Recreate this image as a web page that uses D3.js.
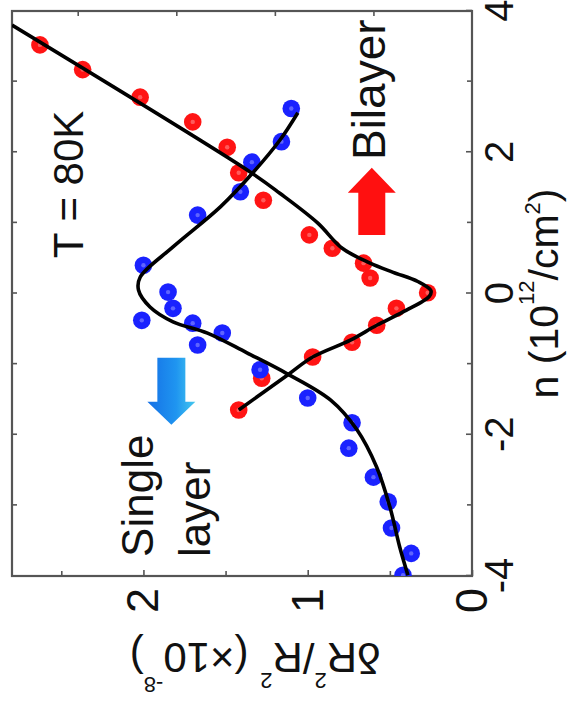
<!DOCTYPE html>
<html><head><meta charset="utf-8">
<script src="https://cdn.jsdelivr.net/npm/d3@7"></script>
<style>body{margin:0;background:#fff}svg{display:block}</style>
</head><body><div id="chart"></div>
<script>
// ---- data (n in 1e12/cm^2, value in 1e-8) ----
const bilayerN = [3.52,3.17,2.78,2.43,2.07,1.71,1.32,0.83,0.64,0.43,0.22,0.01,-0.21,-0.45,-0.69,-0.90,-1.20,-1.65];
const bilayerV = [2.63,2.37,2.02,1.70,1.49,1.42,1.27,0.99,0.85,0.66,0.62,0.27,0.46,0.58,0.73,0.97,1.28,1.42];
const singleN = [2.62,2.15,1.86,1.44,1.11,0.40,0.02,-0.21,-0.38,-0.42,-0.73,-0.56,-1.08,-1.48,-1.83,-2.19,-2.60,-2.95,-3.32,-3.68,-3.99];
const singleV = [1.10,1.16,1.34,1.41,1.67,2.00,1.85,1.82,2.01,1.70,1.67,1.52,1.29,1.00,0.73,0.75,0.60,0.51,0.49,0.37,0.42];
const bilayerFitN = [3.80,1.72,1.42,1.00,0.64,0.43,0.30,0.17,0.04,-0.04,-0.26,-0.45,-0.66,-0.90,-1.15,-1.65];
const bilayerFitV = [2.80,1.35,1.17,0.94,0.79,0.62,0.48,0.33,0.25,0.26,0.42,0.58,0.74,0.97,1.12,1.42];
const singleFitN = [2.56,2.17,1.72,1.23,0.66,0.23,0.05,-0.19,-0.40,-0.56,-0.84,-1.13,-1.51,-1.93,-2.46,-3.02,-3.59,-3.99];
const singleFitV = [1.06,1.17,1.33,1.53,1.82,2.02,2.03,1.96,1.82,1.61,1.37,1.13,0.86,0.70,0.58,0.50,0.44,0.39];
const nTicks = [-4,-2,0,2,4];
const nMinorTicks = [-3,-1,1,3];
const nTopTicks = [-3,-2,-1,0,1,2,3];
const vTicks = [0,1,2];
const vMinorTicks = [0.5,1.5,2.5];
const vRightTicks = [0.6,1.2,1.8,2.4];

// ---- layout ----
const W = 569, H = 715;
const FONT = "Arial, 'Liberation Sans', Helvetica, sans-serif";
const frameColor = "#555";
const svg = d3.select("#chart").append("svg").attr("width", W).attr("height", H);
svg.append("rect").attr("width", W).attr("height", H).attr("fill", "#fff");
// The whole figure is rotated 90deg counter-clockwise
const g = svg.append("g").attr("transform", `translate(0,${H}) rotate(-90)`);
const x = d3.scaleLinear().domain([-4, 4]).range([139, 704]);
const y = d3.scaleLinear().domain([0, 2.8]).range([472, 12]);

g.append("clipPath").attr("id", "clip").append("rect")
  .attr("x", x(-4)).attr("y", y(2.8)).attr("width", x(4) - x(-4)).attr("height", y(0) - y(2.8));

function styleAxis(sel, fs) {
  sel.select(".domain").remove();
  sel.selectAll(".tick line").attr("stroke", frameColor).attr("stroke-width", 1.6);
  sel.attr("font-size", fs).attr("font-family", FONT);
  sel.selectAll("text").attr("fill", "#111");
}
const fmt = d => String(d);
// bottom (n axis)
g.append("g").attr("transform", `translate(0,${y(0)})`)
  .call(d3.axisBottom(x).tickValues(nTicks).tickSizeInner(-6).tickSizeOuter(0).tickPadding(13).tickFormat(fmt))
  .call(s => styleAxis(s, 40));
g.append("g").attr("transform", `translate(0,${y(0)})`)
  .call(d3.axisBottom(x).tickValues(nMinorTicks).tickSizeInner(-5).tickSizeOuter(0).tickFormat(""))
  .call(s => styleAxis(s, 40));
// top
g.append("g").attr("transform", `translate(0,${y(2.8)})`)
  .call(d3.axisTop(x).tickValues(nTopTicks).tickSizeInner(-5).tickSizeOuter(0).tickFormat(""))
  .call(s => styleAxis(s, 40));
// left (value axis)
g.append("g").attr("transform", `translate(${x(-4)},0)`)
  .call(d3.axisLeft(y).tickValues(vTicks).tickSizeInner(-6).tickSizeOuter(0).tickPadding(12).tickFormat(fmt))
  .call(s => styleAxis(s, 45));
g.append("g").attr("transform", `translate(${x(-4)},0)`)
  .call(d3.axisLeft(y).tickValues(vMinorTicks).tickSizeInner(-5).tickSizeOuter(0).tickFormat(""))
  .call(s => styleAxis(s, 45));
// right
g.append("g").attr("transform", `translate(${x(4)},0)`)
  .call(d3.axisRight(y).tickValues(vRightTicks).tickSizeInner(-5).tickSizeOuter(0).tickFormat(""))
  .call(s => styleAxis(s, 40));

// frame
g.append("rect").attr("x", x(-4)).attr("y", y(2.8)).attr("width", x(4) - x(-4)).attr("height", y(0) - y(2.8))
  .attr("fill", "none").attr("stroke", frameColor).attr("stroke-width", 2.2);

// points
function drawPoints(ns, vs, color) {
  const pts = ns.map((n, i) => [n, vs[i]]);
  const pg = g.append("g").attr("clip-path", "url(#clip)");
  pg.selectAll("circle.m").data(pts).join("circle").attr("class", "m")
    .attr("cx", d => x(d[0])).attr("cy", d => y(d[1])).attr("r", 8.8).attr("fill", color);
  pg.selectAll("circle.h").data(pts).join("circle").attr("class", "h")
    .attr("cx", d => x(d[0])).attr("cy", d => y(d[1])).attr("r", 2.2).attr("fill", "#fff").attr("opacity", 0.3);
}
drawPoints(bilayerN, bilayerV, "#ff1414");
drawPoints(singleN, singleV, "#1a22ff");

// fits
const line = d3.line().x(d => x(d[0])).y(d => y(d[1])).curve(d3.curveCatmullRom.alpha(0.5));
function drawFit(ns, vs) {
  g.append("path").datum(ns.map((n, i) => [n, vs[i]])).attr("d", line)
    .attr("fill", "none").attr("stroke", "#000").attr("stroke-width", 3.6)
    .attr("stroke-linejoin", "round").attr("clip-path", "url(#clip)");
}
drawFit(bilayerFitN, bilayerFitV);
drawFit(singleFitN, singleFitV);

// arrows (horizontal in the unrotated frame)
const defs = svg.append("defs");
const grad = defs.append("linearGradient").attr("id", "blueGrad")
  .attr("x1", 0).attr("y1", 0).attr("x2", 0).attr("y2", 1);
grad.append("stop").attr("offset", "0%").attr("stop-color", "#1570e6");
grad.append("stop").attr("offset", "60%").attr("stop-color", "#1f95f0");
grad.append("stop").attr("offset", "100%").attr("stop-color", "#45c8ee");
function arrow(nTail, nTip, v, shaftHalf, headHalf, headLen, fill) {
  const x0 = x(nTail), x1 = x(nTip), yc = y(v);
  const dir = Math.sign(x1 - x0);
  const xb = x1 - dir * headLen;
  const p = d3.path();
  p.moveTo(x0, yc - shaftHalf); p.lineTo(xb, yc - shaftHalf); p.lineTo(xb, yc - headHalf);
  p.lineTo(x1, yc); p.lineTo(xb, yc + headHalf); p.lineTo(xb, yc + shaftHalf);
  p.lineTo(x0, yc + shaftHalf); p.closePath();
  g.append("path").attr("d", p.toString()).attr("fill", fill);
}
arrow(0.83, 1.78, 0.61, 13.5, 24, 25, "#ff1010");
arrow(-0.91, -1.86, 1.83, 14, 24, 23, "url(#blueGrad)");

// annotations
function label(txt, n, v, fs) {
  g.append("text").attr("x", x(n)).attr("y", y(v)).attr("font-size", fs)
    .attr("font-family", FONT).attr("fill", "#111").text(txt);
}
label("Bilayer", 1.89, 0.53, 46);
label("T = 80K", 0.50, 2.37, 42);
label("Single", -3.73, 1.94, 44);
label("layer", -3.73, 1.595, 44);

// x-axis title
const xt = g.append("text").attr("x", x(0)).attr("y", 558).attr("text-anchor", "middle")
  .attr("font-size", 41).attr("font-family", FONT).attr("fill", "#111");
xt.append("tspan").text("n (10");
xt.append("tspan").attr("font-size", 22).attr("dy", -24).text("12");
xt.append("tspan").attr("dy", 24).text("/cm");
xt.append("tspan").attr("font-size", 22).attr("dy", -18).text("2");
xt.append("tspan").attr("dy", 18).text(")");

// y-axis title
const yt = g.append("text").attr("transform", `translate(72,${y(1.32)}) rotate(-90)`)
  .attr("text-anchor", "middle").attr("font-size", 42).attr("font-family", FONT).attr("fill", "#111");
yt.append("tspan").text("δR");
yt.append("tspan").attr("font-size", 22).attr("dy", -30).text("2");
yt.append("tspan").attr("dy", 30).text("/R");
yt.append("tspan").attr("font-size", 22).attr("dy", -30).text("2");
yt.append("tspan").attr("dy", 30).text(" (×10");
yt.append("tspan").attr("font-size", 22).attr("dy", -34).text("-8");
yt.append("tspan").attr("dy", 34).text(")");
</script>
</body></html>
